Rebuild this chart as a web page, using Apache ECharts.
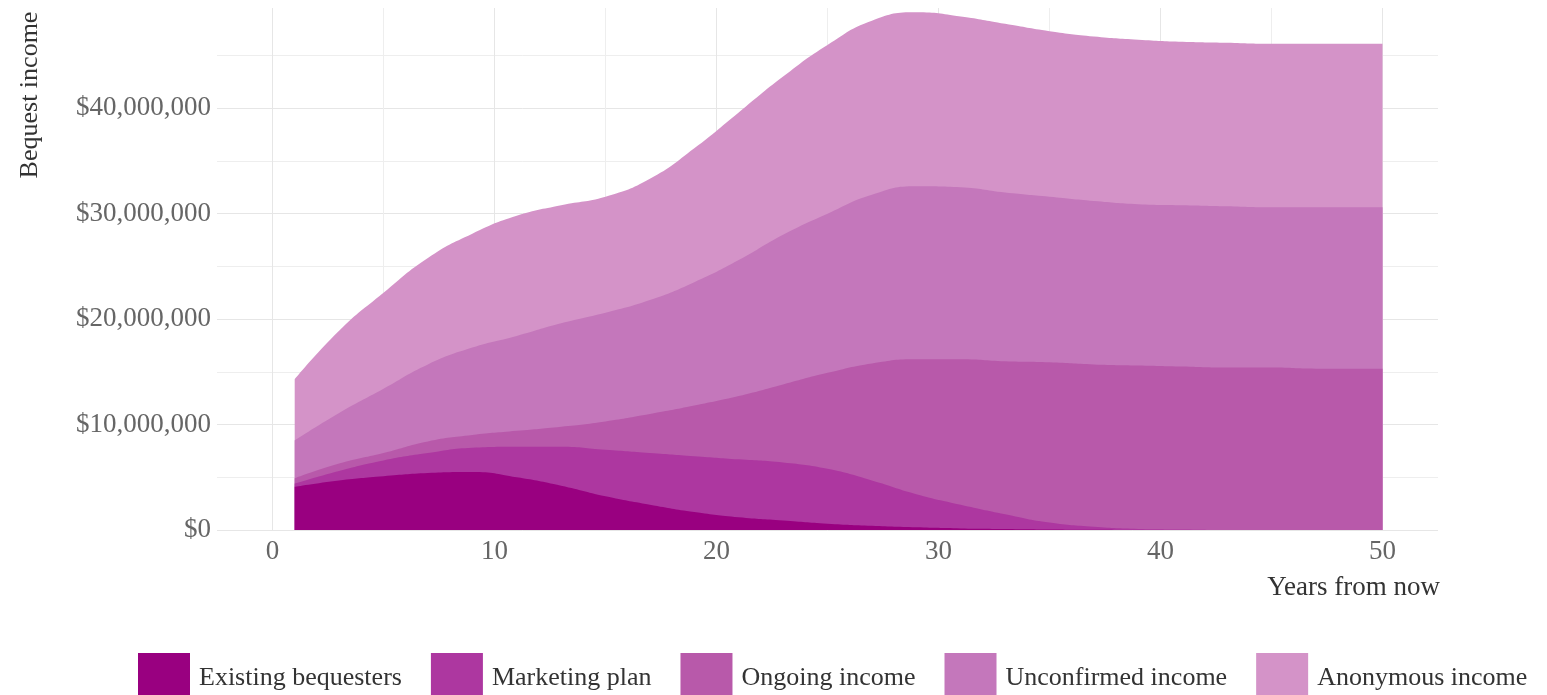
<!DOCTYPE html>
<html>
<head>
<meta charset="utf-8">
<title>Bequest income projection</title>
<script src="https://cdn.jsdelivr.net/npm/echarts@6/dist/echarts.min.js"></script>
<style>
  html, body { margin: 0; padding: 0; background: #ffffff; }
  #chart { width: 1547px; height: 695px; }
</style>
</head>
<body>
<div id="chart"></div>
<script>
// Years from now at which each income stream is given
const years = [1, 3, 5, 7, 9, 11, 13, 15, 17, 19, 21, 23, 25, 27, 29, 31, 33, 35, 37, 39, 41, 43, 45, 47, 49, 50];

// Income per stream, in millions of dollars (stacked bottom to top)
const existingBequesters = [4.1, 4.7, 5.1, 5.4, 5.5, 5.0, 4.2, 3.2, 2.4, 1.7, 1.2, 0.9, 0.6, 0.4, 0.25, 0.15, 0.1, 0.05, 0.02, 0, 0, 0, 0, 0, 0, 0];
const marketingPlan      = [0.3, 0.9, 1.5, 1.9, 2.3, 2.9, 3.7, 4.4, 4.9, 5.3, 5.5, 5.5, 5.2, 4.3, 3.15, 2.25, 1.4, 0.65, 0.28, 0.1, 0.05, 0, 0, 0, 0, 0];
const ongoingIncome      = [0.5, 0.7, 0.7, 1.1, 1.2, 1.5, 1.9, 2.7, 3.7, 4.8, 6.0, 7.4, 9.1, 11.1, 12.8, 13.8, 14.5, 15.2, 15.4, 15.5, 15.45, 15.4, 15.4, 15.3, 15.3, 15.3];
const unconfirmedIncome  = [3.6, 4.8, 6.1, 7.3, 8.3, 9.0, 9.8, 10.3, 10.8, 11.7, 12.9, 14.2, 15.1, 16.0, 16.4, 16.3, 16.0, 15.7, 15.5, 15.3, 15.3, 15.3, 15.2, 15.3, 15.3, 15.3];
const anonymousIncome    = [5.8, 7.8, 9.1, 10.1, 10.8, 11.4, 11.2, 11.0, 11.5, 12.7, 14.0, 15.0, 16.0, 16.5, 16.5, 16.2, 16.0, 15.7, 15.6, 15.6, 15.5, 15.5, 15.5, 15.5, 15.5, 15.5];

const seriesNames = ['Existing bequesters', 'Marketing plan', 'Ongoing income', 'Unconfirmed income', 'Anonymous income'];
const seriesValues = [existingBequesters, marketingPlan, ongoingIncome, unconfirmedIncome, anonymousIncome];
const seriesColors = ['#990080', '#ad37a0', '#b859aa', '#c477bb', '#d493c8'];

// Axis tick labels
const xTickLabels = [0, 10, 20, 30, 40, 50];
const yTickLabels = ['$0', '$10,000,000', '$20,000,000', '$30,000,000', '$40,000,000'];

const FONT = '"Liberation Serif", "DejaVu Serif", serif';
const MILLION = 1e6;

const chart = echarts.init(document.getElementById('chart'), null, { renderer: 'canvas' });

// Running totals: the upper edge of each stream's band in the stack
const runningTop = [];
seriesValues.forEach(function (vals, i) {
  runningTop.push(vals.map(function (v, j) {
    return (i > 0 ? runningTop[i - 1][j] : 0) + v;
  }));
});

// Opaque bands filled down to zero; the tallest is drawn underneath so each
// lower stream sits over the one stacked above it.
const series = seriesNames.map(function (name, i) {
  return {
    name: name,
    type: 'line',
    smooth: 0.5,
    symbol: 'none',
    showSymbol: false,
    z: 10 - i,
    lineStyle: { width: 0 },
    itemStyle: { color: seriesColors[i] },
    areaStyle: { color: seriesColors[i], opacity: 1, origin: 'start' },
    data: years.map(function (y, j) { return [y, runningTop[i][j] * MILLION]; })
  };
});

chart.setOption({
  animation: false,
  backgroundColor: '#ffffff',
  textStyle: { fontFamily: FONT },
  grid: { left: 217, right: 109, top: 8, bottom: 165, containLabel: false },
  xAxis: {
    type: 'value',
    min: -2.5,
    max: 52.5,
    interval: 2.5,
    axisLine: { show: false },
    axisTick: { show: false },
    axisLabel: {
      margin: 8,
      fontSize: 27,
      fontFamily: FONT,
      color: '#666666',
      formatter: function (v) {
        return xTickLabels.indexOf(v) >= 0 ? String(v) : '';
      }
    },
    splitLine: {
      show: true,
      lineStyle: { width: 1, color: ['rgba(0,0,0,0)', '#e6e6e6', 'rgba(0,0,0,0)', '#eeeeee'] }
    }
  },
  yAxis: {
    type: 'value',
    min: 0,
    max: 49.5 * MILLION,
    interval: 5 * MILLION,
    axisLine: { show: false },
    axisTick: { show: false },
    axisLabel: {
      margin: 6,
      fontSize: 27,
      fontFamily: FONT,
      color: '#666666',
      showMaxLabel: false,
      formatter: function (v) {
        const k = Math.round(v / (10 * MILLION));
        if (Math.abs(v - k * 10 * MILLION) > 1 || k >= yTickLabels.length) return '';
        return yTickLabels[k];
      }
    },
    splitLine: {
      show: true,
      showMaxLine: false,
      lineStyle: { width: 1, color: ['#e6e6e6', '#eeeeee'] }
    }
  },
  legend: {
    data: seriesNames,
    left: 133,
    top: 648,
    width: 1414,
    orient: 'horizontal',
    icon: 'rect',
    itemWidth: 52,
    itemHeight: 50,
    itemGap: 29,
    selectedMode: false,
    textStyle: { fontSize: 26, fontFamily: FONT, color: '#333333', padding: [0, 0, 0, 4] }
  },
  graphic: [
    {
      type: 'text',
      x: 30,
      y: 95,
      rotation: Math.PI / 2,
      style: {
        text: 'Bequest income',
        font: '26px ' + FONT,
        fill: '#333333',
        align: 'center',
        verticalAlign: 'middle'
      }
    },
    {
      type: 'text',
      x: 1440,
      y: 588,
      style: {
        text: 'Years from now',
        font: '27px ' + FONT,
        fill: '#333333',
        align: 'right',
        verticalAlign: 'middle'
      }
    }
  ],
  series: series
});
</script>
</body>
</html>
